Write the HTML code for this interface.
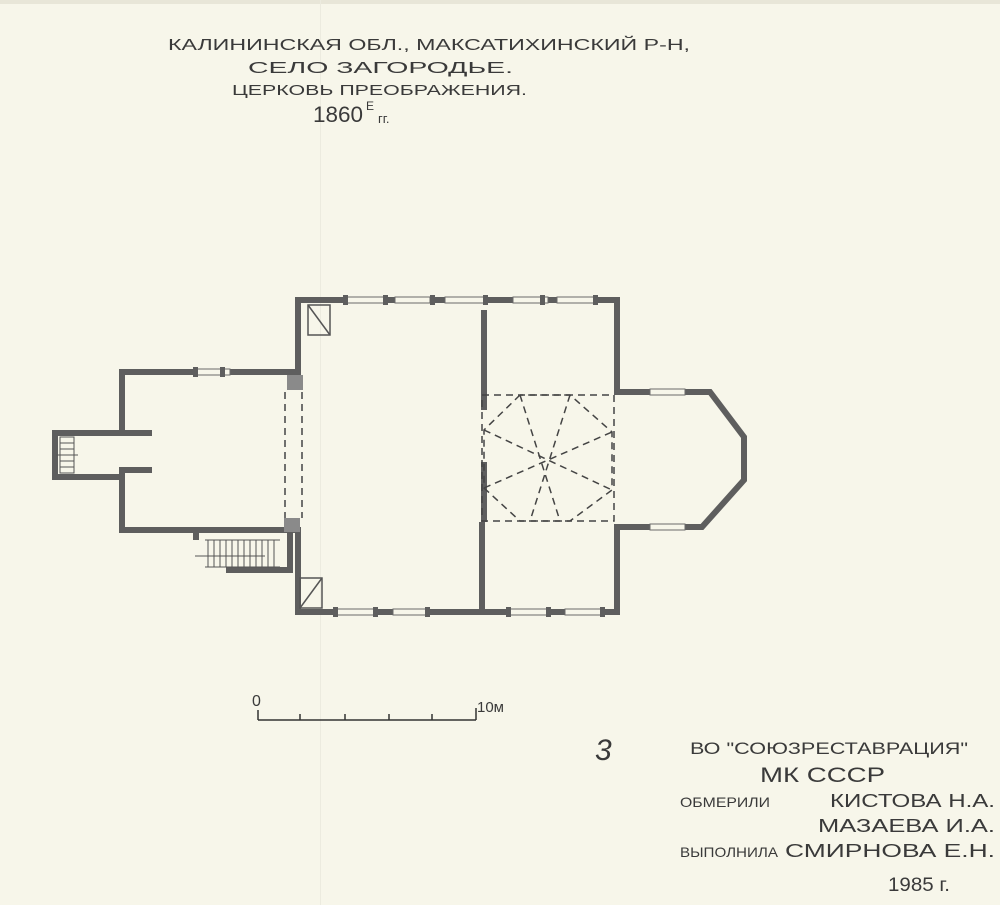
<!DOCTYPE html>
<html><head><meta charset="utf-8"><style>
html,body{margin:0;padding:0;background:#f7f6ea;}
svg{display:block}
text{font-family:"Liberation Sans","DejaVu Sans",sans-serif;fill:#3a3a3a;}
</style></head><body>
<svg width="1000" height="905" viewBox="0 0 1000 905" xmlns="http://www.w3.org/2000/svg">
<rect width="1000" height="905" fill="#f7f6ea"/>
<rect x="0" y="0" width="1000" height="4" fill="#e8e6d8"/>
<rect x="320" y="0" width="1" height="905" fill="#ecebdf"/>
<!-- title -->
<text x="168" y="50" font-size="16" textLength="522" lengthAdjust="spacingAndGlyphs">КАЛИНИНСКАЯ  ОБЛ., МАКСАТИХИНСКИЙ  Р-Н,</text>
<text x="248" y="73" font-size="16" textLength="265" lengthAdjust="spacingAndGlyphs">СЕЛО  ЗАГОРОДЬЕ.</text>
<text x="232" y="95" font-size="15" textLength="295" lengthAdjust="spacingAndGlyphs">ЦЕРКОВЬ ПРЕОБРАЖЕНИЯ.</text>
<text x="313" y="122" font-size="22" textLength="50" lengthAdjust="spacingAndGlyphs">1860</text>
<text x="366" y="110" font-size="12">Е</text>
<text x="378" y="123" font-size="13">гг.</text>
<!-- plan -->
<g fill="none" stroke="#5e5e5e" stroke-width="6" stroke-linejoin="miter">
<polyline points="152,433 122,433 122,372 298,372 298,300 617,300 617,392 710,392 744,437 744,480 702,527 617,527 617,612 298,612 298,530 122,530 122,470 152,470"/>
<polyline points="122,433 55,433 55,477 122,477"/>
<line x1="484" y1="310" x2="484" y2="410"/>
<line x1="484" y1="462" x2="484" y2="522"/>
<line x1="482" y1="522" x2="482" y2="612"/>
<line x1="290" y1="530" x2="296" y2="530"/>
<polyline points="196,540 196,530 290,530"/>
<polyline points="226,570 290,570 290,530"/>
</g>
<rect x="287" y="375" width="16" height="15" fill="#8a8a8a"/>
<rect x="284" y="518" width="16" height="14" fill="#8a8a8a"/>
<!-- windows -->
<g fill="#f7f6ea" stroke="#6b6b6b" stroke-width="1">
<rect x="345" y="297" width="40" height="6"/>
<rect x="395" y="297" width="35" height="6"/>
<rect x="445" y="297" width="40" height="6"/>
<rect x="513" y="297" width="35" height="6"/>
<rect x="557" y="297" width="38" height="6"/>
<rect x="335" y="609" width="40" height="6"/>
<rect x="393" y="609" width="35" height="6"/>
<rect x="508" y="609" width="40" height="6"/>
<rect x="565" y="609" width="38" height="6"/>
<rect x="195" y="369" width="35" height="6"/>
<rect x="650" y="389" width="35" height="6"/>
<rect x="650" y="524" width="35" height="6"/>
</g>
<g fill="#5e5e5e">
<rect x="343" y="295" width="5" height="10"/><rect x="383" y="295" width="5" height="10"/><rect x="430" y="295" width="5" height="10"/><rect x="483" y="295" width="5" height="10"/><rect x="540" y="295" width="5" height="10"/><rect x="593" y="295" width="5" height="10"/>
<rect x="333" y="607" width="5" height="10"/><rect x="373" y="607" width="5" height="10"/><rect x="425" y="607" width="5" height="10"/><rect x="506" y="607" width="5" height="10"/><rect x="546" y="607" width="5" height="10"/><rect x="600" y="607" width="5" height="10"/>
<rect x="193" y="367" width="5" height="10"/><rect x="220" y="367" width="5" height="10"/>
</g>
<!-- diag boxes -->
<g stroke="#555" stroke-width="1.5" fill="none">
<rect x="308" y="305" width="22" height="30"/><line x1="308" y1="305" x2="330" y2="335"/>
<rect x="300" y="578" width="22" height="30"/><line x1="322" y1="578" x2="300" y2="608"/>
</g>
<!-- stairs -->
<g stroke="#555" stroke-width="1">
<line x1="205" y1="540" x2="280" y2="540"/><line x1="205" y1="567" x2="280" y2="567"/>
<path d="M208 540V567M214 540V567M220 540V567M226 540V567M232 540V567M238 540V567M244 540V567M250 540V567M256 540V567M262 540V567M268 540V567M274 540V567"/>
<line x1="195" y1="556" x2="265" y2="556"/>
<rect x="60" y="437" width="14" height="36" fill="none"/>
<path d="M60 443H74M60 449H74M60 455H74M60 461H74M60 467H74M56 455H78"/>
</g>
<!-- dashed -->
<g stroke="#444" stroke-width="1.5" fill="none" stroke-dasharray="7,5">
<line x1="285" y1="392" x2="285" y2="518"/>
<line x1="302" y1="392" x2="302" y2="518"/>
<rect x="482" y="395" width="132" height="126"/>
<line x1="520" y1="395" x2="560" y2="521"/>
<line x1="570" y1="395" x2="530" y2="521"/>
<line x1="484" y1="430" x2="612" y2="490"/>
<line x1="484" y1="488" x2="612" y2="432"/>
<polyline points="520,395 484,430 484,488 520,521 570,521 612,490 612,432 570,395 520,395"/>
</g>
<!-- scale -->
<text x="252" y="706" font-size="16">0</text>
<text x="477" y="712" font-size="15">10м</text>
<g stroke="#333" stroke-width="1.5">
<line x1="258" y1="720" x2="476" y2="720"/>
<path d="M258 710V720M300 714V720M345 714V720M389 714V720M432 714V720M476 708V720"/>
</g>
<!-- bottom text -->
<text x="595" y="760" font-size="30" font-style="italic">3</text>
<text x="690" y="754" font-size="17" textLength="278" lengthAdjust="spacingAndGlyphs">ВО "СОЮЗРЕСТАВРАЦИЯ"</text>
<text x="760" y="782" font-size="21" textLength="125" lengthAdjust="spacingAndGlyphs">МК СССР</text>
<text x="680" y="807" font-size="14" textLength="90" lengthAdjust="spacingAndGlyphs">ОБМЕРИЛИ</text>
<text x="830" y="807" font-size="18" textLength="165" lengthAdjust="spacingAndGlyphs">КИСТОВА Н.А.</text>
<text x="818" y="832" font-size="18" textLength="177" lengthAdjust="spacingAndGlyphs">МАЗАЕВА И.А.</text>
<text x="680" y="857" font-size="14" textLength="98" lengthAdjust="spacingAndGlyphs">ВЫПОЛНИЛА</text>
<text x="785" y="857" font-size="18" textLength="210" lengthAdjust="spacingAndGlyphs">СМИРНОВА Е.Н.</text>
<text x="888" y="891" font-size="19" textLength="62" lengthAdjust="spacingAndGlyphs">1985 г.</text>
</svg>
</body></html>
